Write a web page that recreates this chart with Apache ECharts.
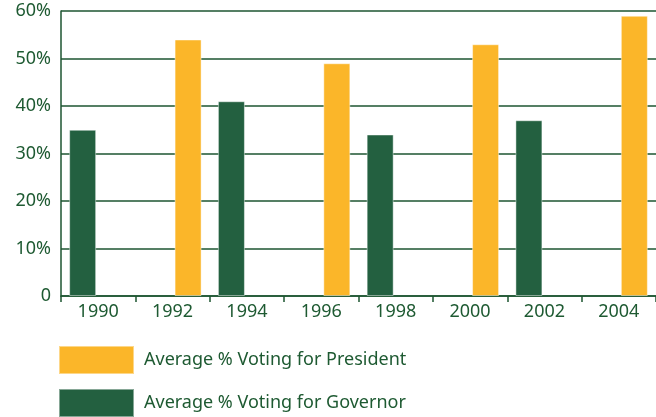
<!DOCTYPE html>
<html>
<head>
<meta charset="utf-8">
<script src="https://cdn.jsdelivr.net/npm/echarts@6/dist/echarts.min.js"></script>
<style>html,body{margin:0;padding:0;background:#fff}#c{width:656px;height:417px}</style>
</head>
<body>
<div id="c"></div>
<script>
var categories = ['1990','1992','1994','1996','1998','2000','2002','2004'];
var governor = [35, null, 41, null, 34, null, 37, null];
var president = [null, 54, null, 49, null, 53, null, 59];
var seriesNames = ['Average % Voting for President', 'Average % Voting for Governor'];

var green = '#236040', yellow = '#FBB629', ink = '#1e5a32', line = '#1d5530';
var font = 'Noto Sans';
function legendAt(name, top) {
  return {
    orient: 'vertical', left: 58, top: top, padding: 0,
    itemWidth: 75, itemHeight: 28, icon: 'rect',
    data: [name],
    textStyle: {fontFamily: font, fontSize: 18, color: ink, padding: [0, 0, 0, 5]}
  };
}
var chart = echarts.init(document.getElementById('c'), null, {renderer: 'canvas'});
chart.setOption({
  animation: false,
  backgroundColor: '#fff',
  grid: {left: 61, right: 0, top: 11, bottom: 121, containLabel: false},
  legend: [legendAt(seriesNames[0], 345), legendAt(seriesNames[1], 388)],
  xAxis: {
    type: 'category', data: categories,
    axisLine: {lineStyle: {color: line, width: 1.5}},
    axisTick: {show: true, length: 6, lineStyle: {color: line, width: 1.5}},
    axisLabel: {fontFamily: font, fontSize: 18, color: ink, margin: 7}
  },
  yAxis: {
    type: 'value', min: 0, max: 60, interval: 10,
    axisLine: {show: true, lineStyle: {color: line, width: 1.5}},
    axisTick: {show: false},
    splitLine: {lineStyle: {color: line, width: 1.5}},
    axisLabel: {fontFamily: font, fontSize: 18, color: ink, margin: 10,
      formatter: function (v) { return v === 0 ? '0' : v + '%'; }}
  },
  series: [
    {name: seriesNames[1], type: 'bar', data: governor, barWidth: 27, barGap: '15%',
     itemStyle: {color: green, borderColor: 'rgba(255,255,255,0.45)', borderWidth: 1}},
    {name: seriesNames[0], type: 'bar', data: president, barWidth: 27, barGap: '15%',
     itemStyle: {color: yellow, borderColor: 'rgba(255,255,255,0.45)', borderWidth: 1}}
  ]
});
</script>
</body>
</html>
